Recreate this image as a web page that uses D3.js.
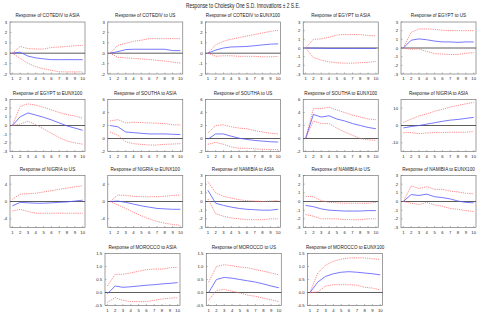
<!DOCTYPE html>
<html>
<head>
<meta charset="utf-8">
<script src="https://cdn.jsdelivr.net/npm/d3@7"></script>
<style>
  body { margin: 0; background: #fff; }
  text { font-family: "Liberation Sans", Arial, sans-serif; fill: #222; }
</style>
</head>
<body>
<div id="chart"></div>
<script>
// Chart size
var width = 480,
    height = 315;

// Horizon periods
var periods = [1, 2, 3, 4, 5, 6, 7, 8, 9, 10];

// Panel titles, in reading order
var panelTitles = [
  "Response of COTEDIV to ASIA", "Response of COTEDIV to US", "Response of COTEDIV to EUNX100",
  "Response of EGYPT to ASIA", "Response of EGYPT to US",
  "Response of EGYPT to EUNX100", "Response of SOUTHA to ASIA", "Response of SOUTHA to US",
  "Response of SOUTHA to EUNX100", "Response of NIGRIA to ASIA",
  "Response of NIGRIA to US", "Response of NIGRIA to EUNX100", "Response of NAMIBIA to ASIA",
  "Response of NAMIBIA to US", "Response of NAMIBIA to EUNX100",
  "Response of MOROCCO to ASIA", "Response of MOROCCO to US", "Response of MOROCCO to EUNX100"
];

// Y axis ranges and tick labels
var yDomains = [
  [-2, 3], [-2, 3], [-2, 3], [-3, 3], [-3, 3],
  [-3, 3], [-2, 6], [-2, 6], [-2, 6], [-15, 15],
  [-6, 6], [-6, 6], [-3, 3], [-3, 3], [-3, 3],
  [-0.5, 1.5], [-0.5, 1.5], [-0.5, 1.5]
];
var small = ["3", "2", "1", "0", "-1", "-2"];
var seven = ["3", "2", "1", "0", "-1", "-2", "-3"];
var sa = ["6", "4", "2", "0", "-2"];
var ng = ["4", "0", "-4"];
var mo = ["1.5", "1.0", "0.5", "0.0", "-0.5"];
var yTickLabels = [
  small, small, small, seven, seven,
  seven, sa, sa, sa, ["10", "0", "-10"],
  ng, ng, seven, seven, seven,
  mo, mo, mo
];

// Impulse responses (blue)
var response = [
  [0, 0.1, -0.28, -0.45, -0.55, -0.62, -0.62, -0.62, -0.62, -0.62],
  [0, 0.15, 0.35, 0.38, 0.38, 0.38, 0.38, 0.38, 0.25, 0.25],
  [0, 0.3, 0.5, 0.6, 0.62, 0.65, 0.72, 0.8, 0.87, 0.9],
  [0, -0.02, -0.03, -0.05, -0.05, -0.05, -0.05, -0.05, -0.05, -0.05],
  [0, 0.9, 1.05, 0.95, 0.8, 0.7, 0.7, 0.65, 0.7, 0.7],
  [0, 1.0, 1.45, 1.2, 0.95, 0.65, 0.3, -0.05, -0.3, -0.55],
  [2.0, 1.8, 1.0, 0.9, 0.8, 0.7, 0.7, 0.7, 0.65, 0.6],
  [-0.1, 0.7, 0.7, 0.35, 0.05, -0.15, -0.3, -0.4, -0.5, -0.55],
  [0, 3.7, 3.3, 3.5, 3.0, 2.7, 2.3, 2.0, 1.7, 1.5],
  [-1.4, -0.6, 0, 0.8, 1.6, 2.4, 3.1, 3.5, 4.1, 4.7],
  [-1.0, -0.2, -0.3, -0.4, -0.4, -0.3, -0.2, -0.1, 0.1, 0.3],
  [0, 0.1, -0.2, -0.6, -1.0, -1.3, -1.6, -1.7, -1.8, -1.8],
  [1.3, -0.2, -0.45, -0.65, -0.8, -0.9, -0.95, -1.0, -1.0, -0.9],
  [-0.45, -0.6, -0.85, -1.0, -1.05, -1.1, -1.1, -1.1, -1.05, -1.05],
  [0, 0.8, 0.7, 0.85, 0.55, 0.45, 0.3, 0.05, -0.1, -0.15],
  [-0.05, 0.25, 0.2, 0.22, 0.25, 0.28, 0.3, 0.33, 0.35, 0.38],
  [0, 0.5, 0.58, 0.55, 0.5, 0.45, 0.4, 0.33, 0.25, 0.18],
  [0, 0.4, 0.62, 0.72, 0.78, 0.8, 0.78, 0.75, 0.72, 0.68]
];

// Upper band (+2 S.E.)
var upper = [
  [0, 0.65, 0.45, 0.4, 0.4, 0.55, 0.6, 0.65, 0.72, 0.75],
  [0, 0.75, 0.95, 1.15, 1.25, 1.4, 1.4, 1.4, 1.4, 1.4],
  [0, 0.8, 1.15, 1.35, 1.5, 1.65, 1.8, 1.95, 2.1, 2.2],
  [0, 1.0, 1.05, 1.25, 1.5, 1.55, 1.55, 1.55, 1.45, 1.4],
  [0, 1.8, 2.2, 2.2, 2.15, 2.05, 2.0, 2.0, 2.0, 2.0],
  [0, 2.2, 2.5, 2.35, 2.1, 1.8, 1.5, 1.25, 1.1, 0.85],
  [2.7, 2.9, 2.4, 2.5, 2.45, 2.4, 2.35, 2.3, 2.1, 2.1],
  [0.85, 2.0, 2.1, 1.8, 1.6, 1.5, 1.2, 1.0, 0.8, 0.7],
  [0, 4.6, 4.6, 4.8, 4.4, 4.0, 3.6, 3.3, 3.0, 2.9],
  [1.8, 3.7, 5.5, 6.7, 8.2, 9.4, 10.6, 11.6, 12.5, 13.3],
  [0.5, 1.7, 1.8, 1.9, 2.2, 2.5, 2.8, 3.1, 3.4, 3.6],
  [0, 1.5, 1.4, 1.2, 1.1, 1.1, 1.1, 1.2, 1.4, 1.5],
  [2.3, 1.0, 0.6, 0.4, 0.2, 0.1, 0.05, 0.0, 0.05, 0.1],
  [0.6, 0.55, 0.1, -0.1, -0.15, -0.2, -0.2, -0.2, -0.2, -0.1],
  [0, 1.8, 1.5, 1.7, 1.4, 1.4, 1.2, 1.1, 0.95, 0.9],
  [0.25, 0.7, 0.7, 0.75, 0.82, 0.88, 0.9, 0.9, 0.95, 0.97],
  [0.4, 1.0, 1.07, 1.03, 0.98, 0.95, 0.88, 0.82, 0.75, 0.68],
  [0, 0.75, 1.05, 1.2, 1.28, 1.33, 1.33, 1.33, 1.3, 1.27]
];

// Lower band (-2 S.E.)
var lower = [
  [0, -0.5, -0.97, -1.3, -1.5, -1.65, -1.78, -1.8, -1.8, -1.8],
  [0, -0.4, -0.45, -0.5, -0.55, -0.6, -0.7, -0.75, -0.85, -0.95],
  [0, -0.3, -0.25, -0.25, -0.3, -0.3, -0.3, -0.35, -0.35, -0.3],
  [0, -1.1, -1.4, -1.6, -1.7, -1.75, -1.75, -1.7, -1.65, -1.55],
  [0, -0.15, -0.1, -0.4, -0.65, -0.7, -0.75, -0.75, -0.6, -0.55],
  [0, 0.15, 0.5, 0.1, -0.4, -0.9, -1.4, -1.8, -2.0, -2.15],
  [1.0, 0.5, -0.5, -0.8, -0.9, -1.0, -1.0, -0.9, -0.85, -0.8],
  [-0.9, -0.6, -0.9, -1.3, -1.5, -1.5, -1.6, -1.65, -1.7, -1.7],
  [0, 2.7, 2.3, 2.3, 1.6, 1.0, 0.5, 0.0, -0.2, -0.3],
  [-4.1, -4.1, -4.7, -4.3, -4.1, -4.1, -3.9, -3.9, -3.9, -3.5],
  [-2.2, -1.8, -2.3, -2.7, -2.7, -2.7, -2.7, -2.7, -2.7, -2.7],
  [0, -0.8, -1.6, -2.5, -3.3, -4.0, -4.6, -5.0, -5.3, -5.5],
  [0.3, -1.4, -1.7, -1.9, -2.0, -2.1, -2.1, -2.1, -2.0, -2.0],
  [-1.5, -1.7, -2.0, -2.0, -2.0, -2.1, -2.1, -2.1, -2.0, -2.0],
  [0, -0.2, -0.35, -0.1, -0.4, -0.55, -0.8, -0.9, -1.05, -1.15],
  [-0.38, -0.2, -0.3, -0.35, -0.35, -0.35, -0.3, -0.25, -0.22, -0.2],
  [-0.3, 0.08, 0.12, 0.05, -0.02, -0.1, -0.15, -0.22, -0.28, -0.35],
  [0, 0.02, 0.25, 0.3, 0.3, 0.3, 0.28, 0.2, 0.17, 0.1]
];

var svg = d3.select("#chart").append("svg")
    .attr("width", width)
    .attr("height", height);

// Main title (narrow, as in the original)
svg.append("text")
    .attr("x", 243)
    .attr("y", 7.5)
    .attr("text-anchor", "middle")
    .attr("textLength", 114)
    .attr("lengthAdjust", "spacingAndGlyphs")
    .style("font-size", "6.8px")
    .text("Response to Cholesky One S.D. Innovations \u00B1 2 S.E.");

// Panel grid: 5 columns for the first 15, then 3 centred
var rowTops = [22, 99.5, 175.5, 253.5];
var panelW = 75,
    panelH = 52;

function panelPos(i) {
  if (i < 15) {
    return { left: 10 + (i % 5) * 97.75, top: rowTops[Math.floor(i / 5)] };
  }
  return { left: 105 + (i - 15) * 101.3, top: rowTops[3] };
}

panelTitles.forEach(function(title, i) {
  var pos = panelPos(i);
  var g = svg.append("g")
      .attr("transform", "translate(" + pos.left + "," + pos.top + ")");

  var x = d3.scaleLinear().domain([0.7, 10.3]).range([0, panelW]);
  var y = d3.scaleLinear().domain(yDomains[i]).range([panelH, 0]);

  // Frame
  g.append("rect")
      .attr("width", panelW)
      .attr("height", panelH)
      .attr("fill", "none")
      .attr("stroke", "#777")
      .attr("stroke-width", 0.7);

  // Title
  g.append("text")
      .attr("x", panelW / 2)
      .attr("y", -5)
      .attr("text-anchor", "middle")
      .style("font-size", "4.6px")
      .text(title);

  // Y ticks
  yTickLabels[i].forEach(function(lab) {
    var v = +lab;
    g.append("line")
        .attr("x1", 0).attr("x2", 1.5)
        .attr("y1", y(v)).attr("y2", y(v))
        .attr("stroke", "#777").attr("stroke-width", 0.5);
    g.append("text")
        .attr("x", -3)
        .attr("y", y(v) + 1.5)
        .attr("text-anchor", "end")
        .style("font-size", "4.2px")
        .text(lab);
  });

  // X ticks
  periods.forEach(function(p) {
    g.append("line")
        .attr("x1", x(p)).attr("x2", x(p))
        .attr("y1", panelH).attr("y2", panelH - 1.5)
        .attr("stroke", "#777").attr("stroke-width", 0.5);
    g.append("text")
        .attr("x", x(p))
        .attr("y", panelH + 6)
        .attr("text-anchor", "middle")
        .style("font-size", "4.2px")
        .text(p);
  });

  // Zero line
  g.append("line")
      .attr("x1", 0).attr("x2", panelW)
      .attr("y1", y(0)).attr("y2", y(0))
      .attr("stroke", "#333")
      .attr("stroke-width", 0.8);

  var line = d3.line()
      .x(function(d, k) { return x(periods[k]); })
      .y(function(d) { return y(d); });

  [upper[i], lower[i]].forEach(function(band) {
    g.append("path")
        .attr("d", line(band))
        .attr("fill", "none")
        .attr("stroke", "#ff6b6b")
        .attr("stroke-width", 0.8)
        .attr("stroke-dasharray", "1.2,1");
  });

  g.append("path")
      .attr("d", line(response[i]))
      .attr("fill", "none")
      .attr("stroke", "#5555ff")
      .attr("stroke-width", 0.8);
});
</script>
</body>
</html>
